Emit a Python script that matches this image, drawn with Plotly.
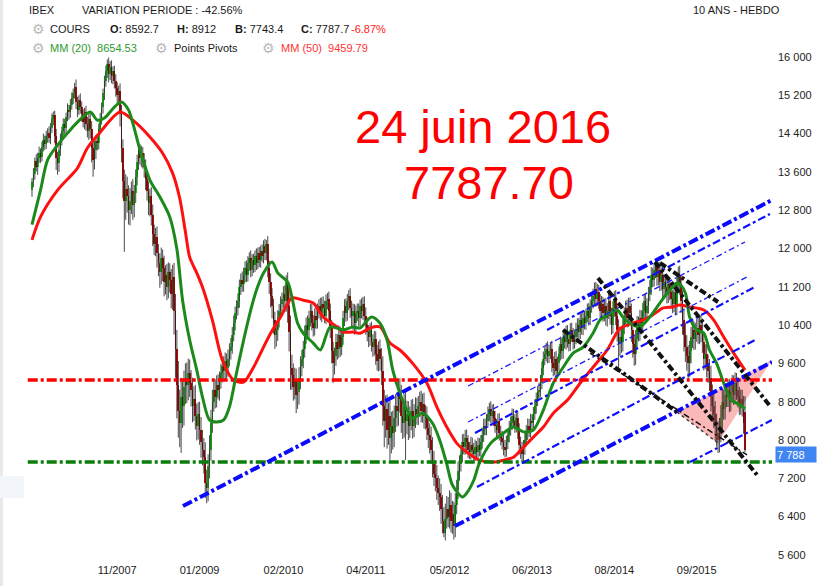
import plotly.graph_objects as go

# ---------------- data (weekly IBEX) ----------------
closes = [
    13380, 13560, 13820, 13700, 13900, 14000, 13920, 14120, 14260, 14180,
    14350, 14420, 14300, 14520, 14700, 14780, 14350, 13900, 13780, 14050,
    14300, 14450, 14600, 14520, 14750, 14900, 14850, 15000, 15150, 15250,
    15380, 15050, 14900, 15100, 14950, 14800, 14650, 14850, 14600, 14450,
    14700, 14500, 14100, 13850, 14050, 14250, 14200, 14500, 14700, 14950,
    15250, 15500, 15700, 15850, 15650, 15800, 15600, 15700, 15500, 15350,
    15200, 15300, 14800, 14100, 13400, 13000, 13250, 13100, 12800, 13000,
    13200, 12900, 13150, 13500, 13800, 14050, 13900, 14000, 13850, 13700,
    13450, 13200, 12950, 13100, 12700, 12300, 12100, 12250, 11900, 11700,
    11500, 11800, 11600, 11300, 11450, 11200, 11500, 11350, 11050, 11400,
    10700, 9900, 9150, 8600, 8350, 8900, 8700, 9100, 9300, 9150,
    9400, 9200, 9050, 8700, 8850, 8500, 8300, 8550, 8200, 7950,
    7800, 7650, 7100, 7000, 7450, 7800, 8350, 8800, 9050, 8900,
    9150, 9050, 9250, 9400, 9550, 9450, 9650, 9500, 9700, 9850,
    9950, 10200, 10450, 10650, 10750, 10900, 11200, 11350, 11250, 11450,
    11600, 11450, 11700, 11800, 11550, 11750, 11650, 11850, 11700, 11900,
    11750, 11950, 11850, 12050, 11900, 12100, 11600, 11300, 11000, 10800,
    10500, 10200, 10300, 10550, 10700, 10850, 10950, 11050, 10900, 11300,
    10800, 10250, 9500, 9350, 9100, 9250, 8950, 9000, 9300, 9550,
    9700, 9900, 10200, 10400, 10300, 10550, 10700, 10450, 10350, 10600,
    10500, 10700, 10800, 10650, 10850, 10750, 10600, 10900, 10950, 10700,
    10350, 9850, 9600, 9750, 10050, 9900, 10200, 9950, 10150, 10550,
    10800, 10650, 10900, 11000, 10750, 10600, 10700, 10450, 10650, 10700,
    10550, 10800, 10700, 10850, 10600, 10400, 10250, 10150, 10300, 10050,
    9950, 10100, 9800, 9650, 9900, 9700, 9450, 8700, 8400, 8650,
    8200, 8500, 8050, 8300, 8150, 8450, 8700, 8600, 9000, 8850,
    8500, 8350, 8700, 8400, 8550, 8300, 8450, 8600, 8300, 8500,
    8650, 8550, 8700, 8800, 8600, 8750, 8500, 8450, 8250, 8100,
    8000, 7800, 7500, 7300, 7200, 7000, 6900, 6800, 6550, 6300,
    6050, 6350, 6550, 6400, 6650, 6300, 6450, 6200, 6650, 6950,
    7350, 7500, 7700, 7950, 7850, 8050, 7950, 7800, 7750, 7900,
    7800, 7700, 7850, 7750, 7900, 7800, 7950, 8100, 8300, 8250,
    8400, 8550, 8650, 8500, 8600, 8450, 8300, 8200, 8400, 8150,
    8050, 7950, 7850, 7800, 7950, 8100, 8250, 8350, 8500, 8400,
    8300, 8450, 8200, 7900, 7800, 7700, 7850, 8000, 8150, 8300,
    8200, 8400, 8350, 8550, 8700, 8850, 9000, 9050, 9200, 9500,
    9700, 9800, 9900, 9750, 9850, 9900, 9600, 9500, 9700, 9450,
    9600, 9800, 10000, 9850, 10150, 10050, 10250, 10100, 10000, 10300,
    10200, 10050, 10150, 10300, 10400, 10250, 10500, 10350, 10550, 10450,
    10600, 10700, 10550, 10800, 10900, 11000, 11150, 10950, 11100, 10900,
    10700, 10850, 10650, 10800, 10550, 10700, 10900, 10600, 10400, 10750,
    10950, 10600, 10300, 10000, 10150, 10050, 10400, 10600, 10750, 10550,
    10800, 10650, 10300, 10000, 9800, 10100, 10400, 10250, 10550, 10450,
    10700, 10900, 10650, 10800, 11050, 11200, 11450, 11350, 11550, 11650,
    11400, 11550, 11300, 11450, 11150, 11300, 11200, 11050, 11250, 11100,
    10950, 10850, 11100, 10800, 11300, 11450, 11250, 10900, 10500, 10200,
    9950, 9750, 9600, 9850, 10150, 10300, 10100, 10250, 10350, 10200,
    10400, 10250, 10050, 9700, 9800, 9550, 9450, 9300, 8900, 8700,
    8550, 8300, 8150, 8000, 8200, 8450, 8800, 8650, 8950, 8900,
    9050, 8800, 9000, 9150, 8950, 9200, 9050, 8900, 8750, 8850,
    8700, 8362, 7787.7,
]
first_open = 13230

wick_up = [
    90, 120, 80, 150, 100, 130, 90, 110, 140, 100,
    110, 90, 130, 100, 120, 80, 100, 150, 120, 140,
    100, 90, 120, 110, 90, 130, 100, 120, 110, 90,
    80, 150, 120, 100, 140, 120, 110, 90, 130, 150,
    120, 140, 160, 130, 200, 120, 140, 110, 130, 100,
    90, 110, 120, 100, 140, 110, 130, 100, 120, 140,
    120, 100, 150, 200, 180, 250, 300, 250, 220, 260,
    200, 250, 180, 150, 160, 140, 130, 150, 120, 140,
    160, 180, 200, 150, 180, 220, 200, 180, 210, 190,
    200, 220, 180, 250, 200, 230, 210, 190, 220, 260,
    300, 350, 400, 500, 450, 400, 380, 350, 300, 320,
    300, 280, 260, 250, 270, 300, 260, 240, 250, 280,
    260, 240, 300, 280, 250, 300, 280, 250, 230, 220,
    200, 220, 180, 190, 170, 200, 180, 160, 190, 170,
    180, 160, 150, 140, 170, 160, 150, 130, 170, 150,
    130, 150, 140, 120, 160, 130, 140, 110, 150, 120,
    130, 110, 140, 120, 150, 80, 160, 150, 180, 170,
    150, 180, 170, 160, 140, 150, 130, 160, 180, 140,
    200, 300, 350, 280, 250, 260, 240, 230, 220, 200,
    180, 170, 190, 160, 200, 150, 140, 180, 160, 150,
    160, 150, 140, 170, 130, 150, 160, 140, 120, 150,
    150, 160, 200, 180, 170, 160, 190, 170, 160, 150,
    140, 160, 150, 130, 170, 160, 150, 140, 160, 150,
    150, 130, 160, 140, 150, 170, 160, 150, 140, 170,
    160, 180, 170, 190, 160, 200, 220, 300, 350, 280,
    300, 280, 320, 290, 310, 270, 260, 300, 280, 290,
    300, 280, 260, 300, 270, 260, 250, 240, 260, 250,
    240, 230, 220, 210, 230, 220, 240, 230, 250, 220,
    250, 280, 260, 270, 250, 280, 260, 300, 280, 300,
    300, 320, 280, 260, 300, 250, 280, 260, 240, 220,
    200, 180, 190, 170, 180, 160, 170, 150, 160, 170,
    150, 140, 160, 130, 150, 140, 150, 160, 140, 150,
    140, 150, 130, 160, 140, 150, 160, 140, 150, 160,
    150, 140, 160, 150, 140, 130, 150, 140, 160, 150,
    140, 150, 160, 150, 170, 160, 150, 140, 160, 150,
    140, 150, 130, 140, 150, 140, 130, 150, 160, 140,
    150, 140, 130, 160, 140, 150, 170, 150, 140, 160,
    140, 150, 160, 140, 150, 160, 140, 150, 160, 140,
    150, 140, 160, 150, 140, 150, 160, 150, 140, 150,
    140, 150, 160, 140, 150, 160, 140, 150, 160, 140,
    150, 160, 140, 150, 170, 160, 150, 170, 160, 150,
    160, 180, 200, 220, 200, 190, 180, 170, 160, 180,
    170, 180, 200, 220, 210, 200, 190, 180, 170, 160,
    160, 150, 170, 160, 150, 140, 160, 150, 140, 100,
    150, 160, 170, 160, 180, 170, 160, 180, 170, 160,
    170, 180, 190, 200, 180, 170, 190, 200, 220, 250,
    250, 240, 230, 220, 210, 200, 190, 200, 180, 190,
    190, 200, 210, 220, 200, 210, 230, 240, 250, 260,
    270, 260, 250, 240, 260, 280, 260, 250, 240, 230,
    220, 230, 220, 210, 200, 210, 200, 220, 210, 200,
    200, 220, 0,
]
wick_dn = [
    150, 100, 120, 90, 160, 110, 130, 100, 90, 120,
    100, 140, 90, 120, 110, 130, 150, 260, 240, 180,
    120, 150, 100, 140, 110, 90, 160, 120, 100, 130,
    120, 140, 160, 110, 130, 150, 120, 160, 140, 130,
    180, 200, 300, 350, 200, 180, 150, 130, 120, 110,
    130, 150, 120, 140, 180, 130, 150, 170, 160, 180,
    180, 200, 250, 300, 350, 1070, 400, 350, 300, 320,
    280, 300, 250, 200, 180, 160, 150, 200, 180, 220,
    230, 200, 250, 280, 220, 250, 240, 260, 300, 280,
    320, 250, 280, 300, 260, 280, 240, 270, 300, 330,
    500, 600, 700, 550, 500, 620, 450, 400, 350, 380,
    320, 300, 350, 330, 300, 280, 310, 290, 300, 320,
    330, 350, 310, 320, 280, 250, 230, 200, 210, 240,
    220, 200, 230, 180, 200, 170, 190, 210, 180, 160,
    170, 150, 140, 160, 130, 150, 140, 170, 160, 150,
    160, 150, 140, 170, 150, 130, 160, 140, 150, 130,
    140, 150, 130, 160, 140, 150, 200, 250, 230, 260,
    280, 300, 250, 230, 200, 180, 210, 190, 230, 220,
    350, 400, 450, 300, 280, 250, 390, 300, 260, 240,
    220, 200, 180, 190, 170, 200, 180, 160, 190, 170,
    180, 170, 160, 150, 190, 170, 160, 180, 170, 190,
    220, 250, 410, 230, 200, 220, 190, 210, 180, 160,
    170, 180, 160, 190, 200, 220, 300, 250, 200, 170,
    180, 170, 160, 190, 180, 200, 190, 210, 180, 200,
    210, 190, 230, 200, 220, 250, 300, 400, 550, 350,
    380, 300, 470, 330, 350, 300, 280, 320, 300, 280,
    350, 330, 300, 820, 280, 300, 260, 250, 270, 240,
    250, 230, 240, 220, 230, 240, 260, 230, 250, 270,
    280, 300, 280, 260, 270, 250, 260, 280, 300, 250,
    80, 150, 200, 220, 250, 230, 260, 280, 230, 200,
    180, 200, 160, 170, 150, 160, 170, 180, 150, 160,
    150, 160, 140, 150, 130, 140, 150, 130, 140, 150,
    150, 140, 160, 150, 140, 160, 150, 170, 150, 160,
    160, 150, 170, 160, 150, 140, 150, 160, 140, 150,
    150, 140, 180, 200, 190, 170, 150, 160, 140, 150,
    140, 150, 130, 140, 130, 150, 140, 130, 150, 140,
    150, 140, 160, 150, 140, 160, 180, 170, 150, 170,
    160, 150, 140, 160, 150, 140, 160, 170, 150, 140,
    150, 160, 140, 150, 160, 150, 140, 150, 160, 140,
    150, 140, 160, 150, 140, 150, 160, 170, 150, 160,
    170, 160, 180, 170, 160, 180, 170, 190, 200, 180,
    180, 200, 250, 540, 250, 230, 200, 190, 180, 200,
    190, 210, 250, 280, 250, 230, 200, 190, 180, 170,
    170, 160, 180, 170, 160, 150, 170, 160, 150, 170,
    180, 170, 190, 180, 200, 190, 180, 200, 190, 180,
    190, 200, 180, 200, 190, 200, 220, 250, 300, 350,
    320, 300, 350, 280, 250, 230, 220, 210, 200, 190,
    200, 210, 230, 250, 220, 240, 260, 280, 300, 320,
    300, 320, 290, 270, 260, 250, 240, 230, 220, 210,
    210, 220, 200, 210, 220, 200, 210, 220, 230, 220,
    210, 230, 0,
]
last_bar = {"O": 8592.7, "H": 8912, "B": 7743.4, "C": 7787.7}
last_change_txt = "-6.87%"
period_change_txt = "-42.56%"

ma20_idx = [0, 6, 11, 18, 25, 32, 41, 46, 51, 58, 63, 68, 71, 76, 83, 90, 97, 102, 106, 111,
            116, 120, 125, 130, 135, 139, 144, 149, 154, 158, 163, 169, 173, 180, 183, 187, 191, 198, 203, 210,
            219, 226, 231, 239, 245, 250, 254, 259, 264, 268, 275, 282, 287, 292, 296, 303, 306, 311, 315, 323,
            330, 339, 346, 353, 360, 367, 374, 381, 388, 395, 400, 407, 412, 416, 421, 428, 435, 442, 449, 455,
            460, 463, 468, 473, 477, 482, 487, 492, 496, 502]
ma20_val = [12500, 13220, 13850, 14160, 14410, 14640, 14850, 14680, 14725, 14955, 15060, 14890, 14620, 14060, 13430, 13080, 12660, 11990, 10920, 10090,
            9460, 8900, 8420, 8375, 8420, 8690, 9400, 10090, 10715, 11130, 11490, 11720, 11490, 11300, 10985, 10440, 10230, 10025, 9880, 10360,
            10300, 10360, 10340, 10570, 10440, 10090, 9460, 8980, 8625, 8455, 8560, 8350, 8000, 7500, 7060, 6810, 6890, 7160, 7520, 7935,
            8100, 8270, 8170, 8210, 8625, 9190, 9520, 9815, 9940, 10230, 10510, 10650, 10715, 10570, 10440, 10360, 10570, 10860, 11130, 11280,
            11070, 10570, 10300, 10230, 9880, 9600, 9190, 8835, 8770, 8654.53]
ma50_idx = [0, 6, 18, 32, 39, 48, 62, 71, 83, 92, 99, 104, 108, 111, 116, 120, 127, 134, 142, 149, 156,
            163, 168, 175, 183, 191, 198, 205, 215, 219, 226, 231, 238, 245, 252, 259, 268, 278, 285, 292, 299,
            306, 315, 325, 332, 339, 346, 353, 360, 367, 377, 386, 395, 405, 414, 423, 430, 437, 444, 451, 456,
            463, 473, 480, 487, 494, 502]
ma50_val = [12180, 12660, 13220, 13680, 14100, 14430, 14850, 14680, 14330, 13990, 13575, 13050, 12350, 11820, 11490, 11195, 10505, 9670, 9250, 9210, 9520,
            9940, 10230, 10570, 10965, 10920, 10860, 10570, 10360, 10255, 10255, 10230, 10340, 10360, 10025, 9880, 9600, 9190, 8690, 8270, 7935,
            7750, 7580, 7540, 7580, 7640, 7850, 8060, 8270, 8560, 8835, 9190, 9520, 9880, 10330, 10440, 10505, 10610, 10755, 10780, 10820,
            10780, 10715, 10505, 10150, 9815, 9459.79]

tick_idx = [60, 118, 177, 235, 294, 352, 410, 468]
tick_txt = ["11/2007", "01/2009", "02/2010", "04/2011", "05/2012", "06/2013", "08/2014", "09/2015"]

level_red = 9253
level_green = 7540
level_span = (-3, 521)

# trend lines: (bar0, price0, bar1, price1)
blue_thick = [(106.3, 6621, 521.0, 13013), (297.8, 6204, 521.0, 9629)]
blue_medium = [(362.6, 10298, 519.6, 12721), (311.9, 8146, 509.0, 11196),
               (313.3, 7018, 509.0, 10089), (463.3, 7540, 521.0, 8418)]
blue_thin = [(307.0, 9128, 502.0, 12136), (307.0, 8376, 503.4, 11405)]
black_thick = [(398.5, 11384, 510.5, 7269), (438.6, 11718, 519.6, 8710),
               (442.2, 11697, 483.0, 10883), (373.9, 10298, 454.1, 8585)]
black_thin = [(392.9, 9817, 503.4, 7687)]
triangle_i = [454.1, 483.0, 521.0]
triangle_p = [8585, 7937, 9671]

# ---------------- derived OHLC ----------------
n = len(closes)
assert len(wick_up) == n and len(wick_dn) == n, (n, len(wick_up), len(wick_dn))
idx = list(range(n))
opens = [first_open] + closes[:-1]
opens[-1] = last_bar["O"]
highs = [max(o, c) + u for o, c, u in zip(opens, closes, wick_up)]
lows = [min(o, c) - d for o, c, d in zip(opens, closes, wick_dn)]
highs[-1] = last_bar["H"]
lows[-1] = last_bar["B"]

# ---------------- geometry ----------------
W, H = 827, 586
ML, MR, MT, MB = 0, 55, 50, 24
PW, PH = W - ML - MR, H - MT - MB
X_RANGE = [-22.53, 521.0]
Y_RANGE = [5452, 16146]


def px_x(px):
    return (px - ML) / PW


def px_y(py):
    return (H - MB - py) / PH


FONT = "Arial, Liberation Sans, sans-serif"
UP, DOWN = "#19dc19", "#e30000"

fig = go.Figure()

# pink triangle (under candles)
fig.add_trace(go.Scatter(x=triangle_i + [triangle_i[0]], y=triangle_p + [triangle_p[0]],
                         fill="toself", fillcolor="rgba(246,125,125,0.55)",
                         line=dict(width=0), mode="lines", hoverinfo="skip"))

# wicks
wx, wy = [], []
for i, lo, hi in zip(idx, lows, highs):
    wx += [i, i, None]
    wy += [lo, hi, None]
fig.add_trace(go.Scatter(x=wx, y=wy, mode="lines", line=dict(color="#1a1a1a", width=0.8),
                         hoverinfo="skip"))

# bodies
fig.add_trace(go.Bar(x=idx, y=[max(abs(c - o), 12) for o, c in zip(opens, closes)],
                     base=[min(o, c) for o, c in zip(opens, closes)], width=1.25,
                     marker=dict(color=[UP if c >= o else DOWN for o, c in zip(opens, closes)],
                                 line=dict(width=0)),
                     hoverinfo="skip"))

# moving averages
fig.add_trace(go.Scatter(x=ma50_idx, y=ma50_val, mode="lines",
                         line=dict(color="#ff1010", width=3, shape="spline", smoothing=0.8)))
fig.add_trace(go.Scatter(x=ma20_idx, y=ma20_val, mode="lines",
                         line=dict(color="#1b8a1b", width=3, shape="spline", smoothing=0.8)))

DASH_H = "10px,3px,3px,3px"
fig.add_trace(go.Scatter(x=list(level_span), y=[level_red, level_red], mode="lines",
                         line=dict(color="#ff0000", width=3.5, dash=DASH_H)))
fig.add_trace(go.Scatter(x=list(level_span), y=[level_green, level_green], mode="lines",
                         line=dict(color="#0a7d0a", width=3.5, dash=DASH_H)))


def add_lines(lines, color, width, dash):
    xs, ys = [], []
    for a, b, c, d in lines:
        xs += [a, c, None]
        ys += [b, d, None]
    fig.add_trace(go.Scatter(x=xs, y=ys, mode="lines",
                             line=dict(color=color, width=width, dash=dash), hoverinfo="skip"))


add_lines(blue_thin, "#1a1aff", 1.3, "6px,3px,2px,3px")
add_lines(blue_medium, "#1010ff", 2.2, "8px,3px,3px,3px")
add_lines(blue_thick, "#0a0aff", 4, "10px,3px,3px,3px")
add_lines(black_thin, "#111111", 1.5, "6px,3px,2px,3px")
add_lines(black_thick, "#111111", 4, "7px,3px,3px,3px")
# lower edge of the pink triangle
fig.add_trace(go.Scatter(x=triangle_i[:2], y=triangle_p[:2], mode="lines",
                         line=dict(color="#444444", width=1.5, dash="dot"), hoverinfo="skip"))

# ---------------- annotations ----------------
ann = []


def txt(t, x, y, color="#1a1a1a", size=11, xanchor="left"):
    ann.append(dict(text=t, x=px_x(x), y=px_y(y), xref="paper", yref="paper",
                    xanchor=xanchor, yanchor="middle", showarrow=False,
                    font=dict(family=FONT, size=size, color=color)))


GEAR = "#b9b9b9"
txt("IBEX", 27, 10)
txt("VARIATION PERIODE : " + period_change_txt, 80, 10)
txt("10 ANS - HEBDO", 691, 10)
txt("\u2699", 30, 29, GEAR, 14)
txt("COURS", 48, 29)
txt("<b>O:</b> %s" % last_bar["O"], 108, 29)
txt("<b>H:</b> %s" % last_bar["H"], 175, 29)
txt("<b>B:</b> %s" % last_bar["B"], 233, 29)
txt("<b>C:</b> %s" % last_bar["C"], 299, 29)
txt(last_change_txt, 349, 29, "#ff2020")
txt("\u2699", 30, 48, GEAR, 14)
txt("MM (20)  %.2f" % ma20_val[-1], 48, 48, "#2f9a2f")
txt("\u2699", 153, 48, GEAR, 14)
txt("Points Pivots", 172, 48)
txt("\u2699", 260, 48, GEAR, 14)
txt("MM (50)  %.2f" % ma50_val[-1], 279, 48, "#ff3333")

txt("24 juin 2016", 483, 126, "#ff0000", 47, "center")
txt("%.2f" % last_bar["C"], 489, 182, "#ff0000", 47, "center")

# last price box
ann.append(dict(text="{:,}".format(round(last_bar["C"])).replace(",", " "),
                x=px_x(775), y=last_bar["C"], xref="paper", yref="y",
                xanchor="left", yanchor="top", yshift=4, showarrow=False, align="left",
                width=38, height=13, bgcolor="#3f86f2", borderpad=1,
                font=dict(family=FONT, size=11, color="#ffffff")))

shapes = [
    dict(type="rect", xref="paper", yref="paper", x0=px_x(0), x1=px_x(3),
         y0=px_y(586), y1=px_y(0), fillcolor="#e9e9e9", line=dict(width=0), layer="below"),
    dict(type="rect", xref="paper", yref="paper", x0=px_x(0), x1=px_x(24),
         y0=px_y(498), y1=px_y(476), fillcolor="#f2f5fa", line=dict(width=0), layer="below"),
]

fig.update_layout(
    width=W, height=H, margin=dict(l=ML, r=MR, t=MT, b=MB),
    paper_bgcolor="#ffffff", plot_bgcolor="#ffffff",
    showlegend=False, separators=", ",
    font=dict(family=FONT, size=11, color="#222222"),
    annotations=ann, shapes=shapes,
    xaxis=dict(range=X_RANGE, tickvals=tick_idx, ticktext=tick_txt, showgrid=False,
               zeroline=False, showline=False, ticks="", tickfont=dict(size=11, color="#222222")),
    yaxis=dict(range=Y_RANGE, side="right", tick0=0, dtick=800, tickformat=",d",
               showgrid=False, zeroline=False, showline=False, ticks="",
               ticklabelstandoff=5, tickfont=dict(size=11, color="#222222")),
    bargap=0,
)

fig.write_html("out.html", config={"displayModeBar": False, "staticPlot": True},
               post_script="document.body.style.margin='0px';")
